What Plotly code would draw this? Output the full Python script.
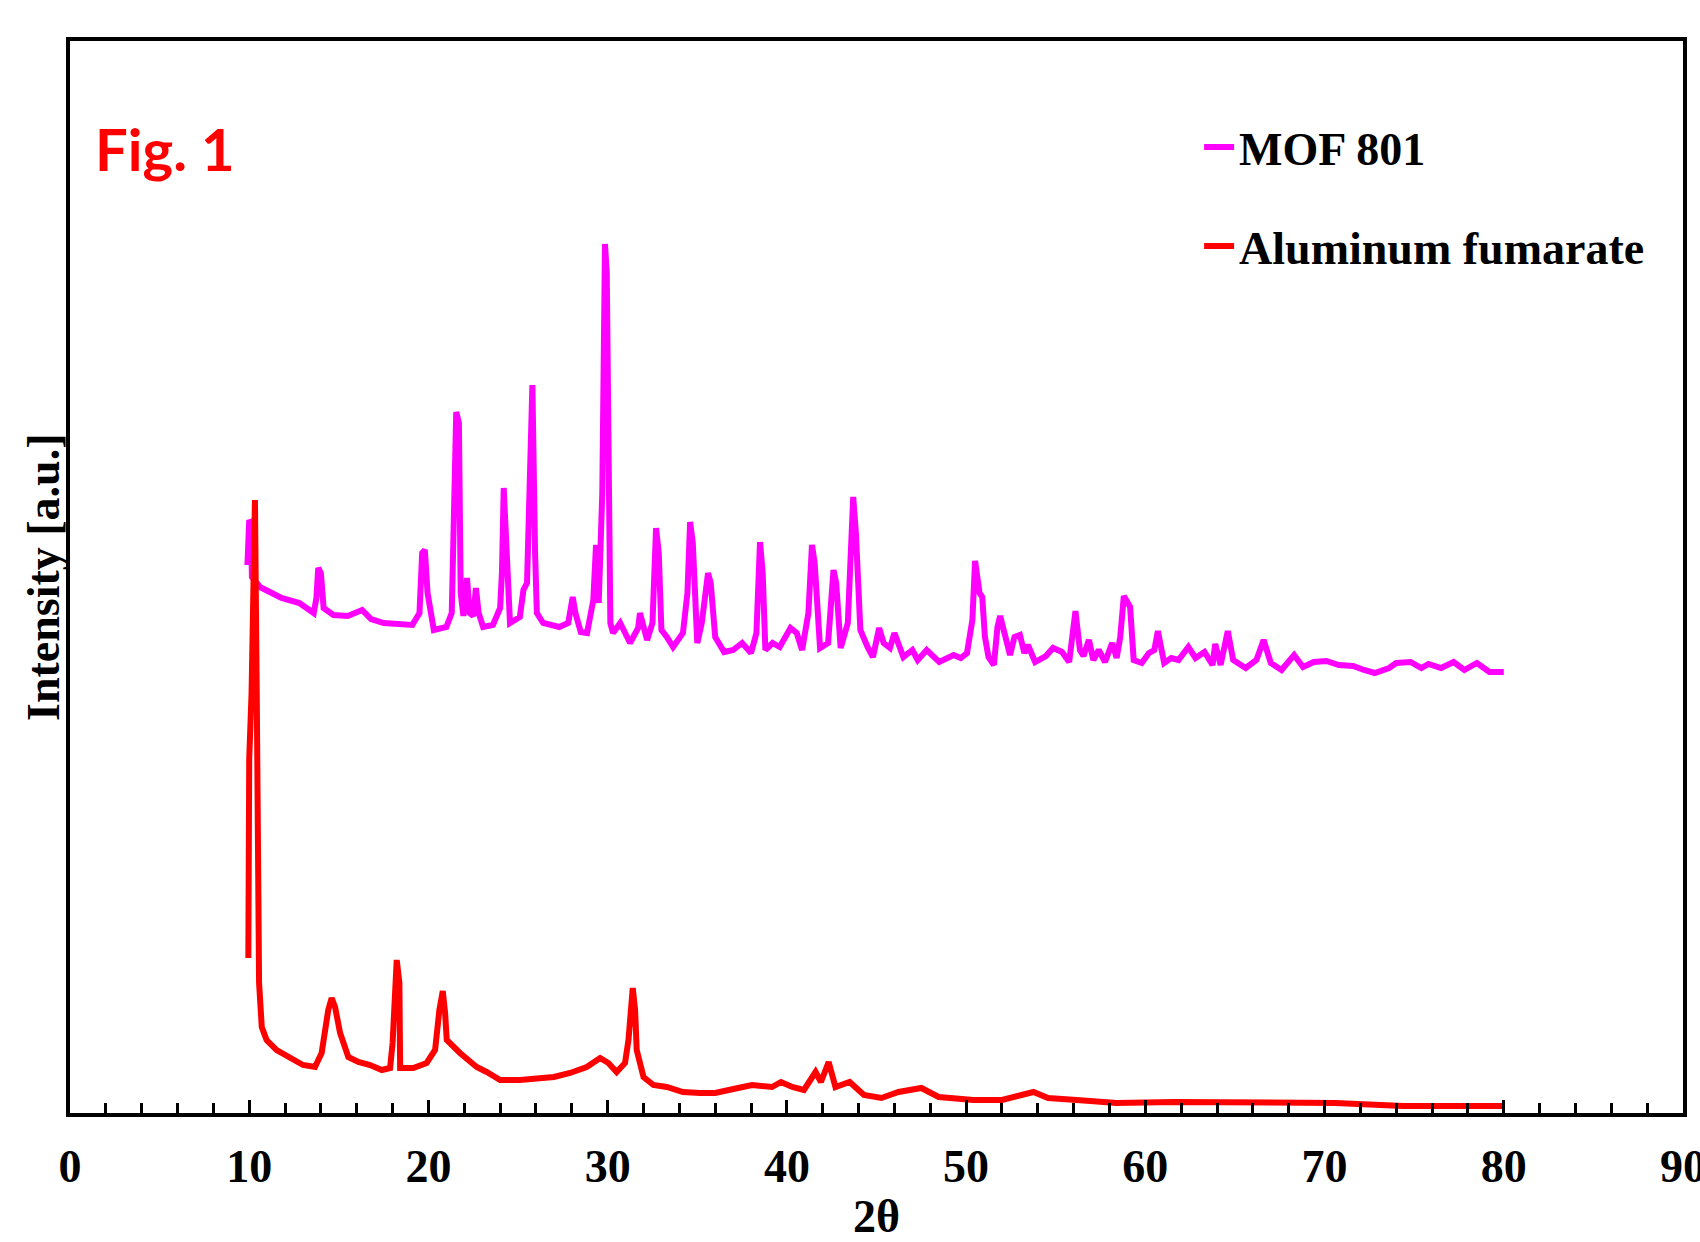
import plotly.graph_objects as go

# ---------------- data ----------------
mof_2theta = [
    9.9, 10.0, 10.1, 10.15, 10.6, 11.2, 11.8, 12.8, 13.6, 13.75,
    13.85, 14.0, 14.15, 14.7, 15.5, 16.3, 16.8, 17.5, 18.3, 19.1,
    19.5, 19.65, 19.8, 19.95, 20.3, 21.0, 21.3, 21.45, 21.55, 21.7,
    21.8, 21.95, 22.15, 22.3, 22.5, 22.65, 22.8, 23.05, 23.6, 24.0,
    24.1, 24.2, 24.35, 24.55, 25.1, 25.3, 25.5, 25.7, 25.8, 25.95,
    26.05, 26.4, 27.3, 27.8, 28.05, 28.2, 28.5, 28.85, 29.2, 29.35,
    29.5, 29.7, 29.85, 29.95, 30.05, 30.15, 30.3, 30.7, 31.25, 31.7,
    31.8, 32.0, 32.2, 32.5, 32.7, 32.85, 33.0, 33.3, 33.65, 34.2,
    34.45, 34.6, 34.75, 35.0, 35.25, 35.6, 35.75, 36.0, 36.5, 37.0,
    37.5, 38.0, 38.3, 38.5, 38.65, 38.8, 39.2, 39.6, 40.2, 40.55,
    40.85, 41.2, 41.4, 41.55, 41.85, 42.3, 42.6, 42.75, 43.0, 43.4,
    43.7, 43.85, 44.1, 44.5, 44.8, 45.15, 45.4, 45.75, 46.0, 46.5,
    47.0, 47.3, 47.8, 48.5, 49.3, 49.7, 50.05, 50.35, 50.5, 50.75,
    50.9, 51.05, 51.25, 51.55, 51.75, 51.9, 52.2, 52.45, 52.7, 53.0,
    53.25, 53.45, 53.85, 54.45, 54.85, 55.35, 55.75, 55.95, 56.1, 56.35,
    56.55, 56.85, 57.1, 57.4, 57.75, 58.15, 58.4, 58.6, 58.8, 59.15,
    59.35, 59.8, 60.2, 60.5, 60.7, 61.05, 61.45, 61.85, 62.4, 62.8,
    63.3, 63.75, 63.9, 64.2, 64.6, 64.9, 65.6, 66.2, 66.6, 67.0,
    67.6, 68.3, 68.8, 69.4, 70.1, 70.8, 71.6, 72.2, 72.8, 73.6,
    74.0, 74.8, 75.4, 75.8, 76.5, 77.2, 77.8, 78.5, 79.2, 80.0,
]
mof_intensity = [
    548, 593, 590, 536, 526, 520, 515, 510, 500, 515,
    545, 540, 505, 498, 497, 503, 494, 490, 489, 488,
    500, 560, 563, 520, 483, 486, 500, 640, 701, 690,
    520, 497, 535, 500, 497, 525, 500, 486, 488, 505,
    540, 625, 560, 490, 496, 523, 530, 690, 728, 560,
    500, 490, 486, 490, 516, 500, 481, 480, 513, 568,
    510, 620, 869, 840, 580, 490, 480, 490, 470, 485,
    500, 485, 473, 490, 585, 560, 483, 476, 466, 480,
    520, 591, 570, 470, 490, 540, 530, 476, 461, 463,
    470, 460, 480, 571, 540, 463, 470, 466, 485, 480,
    463, 500, 568, 550, 465, 470, 543, 530, 465, 490,
    616, 580, 483, 466, 456, 485, 470, 465, 480, 456,
    463, 453, 463, 451, 458, 455, 460, 493, 552, 520,
    516, 476, 456, 448, 486, 497, 473, 458, 476, 478,
    460, 468, 451, 457, 465, 461, 451, 483, 502, 463,
    457, 473, 453, 463, 451, 470, 455, 476, 517, 506,
    453, 450, 460, 463, 482, 450, 455, 453, 466, 455,
    461, 448, 469, 448, 482, 453, 445, 453, 473, 450,
    443, 458, 446, 451, 452, 448, 447, 443, 440, 445,
    450, 451, 445, 449, 445, 451, 443, 450, 441, 441,
]

alfum_2theta = [
    9.95, 10.0, 10.13, 10.32, 10.42, 10.47, 10.55, 10.7, 10.97, 11.53,
    12.28, 13.0, 13.67, 14.04, 14.41, 14.6, 14.79, 15.07, 15.53, 16.09,
    16.74, 17.4, 17.86, 18.0, 18.23, 18.38, 18.42, 19.15, 19.9, 20.37,
    20.61, 20.8, 20.93, 21.02, 21.76, 22.69, 23.25, 24.0, 25.1, 26.04,
    27.0, 27.9, 28.83, 29.58, 30.04, 30.5, 30.97, 31.16, 31.29, 31.4,
    31.53, 31.62, 32.0, 32.55, 33.3, 34.2, 35.16, 36.0, 37.27, 38.06,
    39.17, 39.67, 40.3, 40.95, 41.6, 41.9, 42.33, 42.71, 43.5, 44.3,
    45.27, 46.23, 47.5, 48.47, 50.4, 52.0, 53.76, 54.57, 56.17, 58.4,
    61.6, 65.8, 70.6, 74.4, 78.3, 80.0,
]
alfum_intensity = [
    155, 354, 420, 613, 420, 213, 130, 86, 73, 63,
    55, 48, 46, 60, 103, 115, 106, 80, 56, 51,
    48, 43, 45, 70, 153, 130, 45, 45, 50, 63,
    103, 122, 100, 73, 60, 46, 41, 33, 33, 35,
    36, 40, 46, 55, 50, 41, 50, 73, 113, 125,
    103, 63, 36, 28, 26, 21, 20, 20, 25, 28,
    26, 31, 26, 23, 41, 31, 51, 26, 31, 18,
    15, 21, 25, 16, 13, 13, 21, 15, 13, 10,
    11, 11, 10, 7, 6, 7,
]

series_names = ["MOF 801", "Aluminum fumarate"]
series_colors = ["#FF00FF", "#FF0000"]
x_tick_values = [0, 10, 20, 30, 40, 50, 60, 70, 80, 90]

if len(mof_2theta) != len(mof_intensity) or len(alfum_2theta) != len(alfum_intensity):
    raise ValueError("length mismatch %d %d %d %d" % (len(mof_2theta), len(mof_intensity),
                                                      len(alfum_2theta), len(alfum_intensity)))

SERIF = "Liberation Serif, Times New Roman, serif"

fig = go.Figure()
fig.add_trace(go.Scatter(x=mof_2theta, y=mof_intensity, mode="lines",
                         name=series_names[0], legendgroup="a",
                         line=dict(color=series_colors[0], width=6)))
fig.add_trace(go.Scatter(x=alfum_2theta, y=alfum_intensity, mode="lines",
                         name=series_names[1], legendgroup="b",
                         line=dict(color=series_colors[1], width=6)))

fig.update_layout(
    width=1700, height=1242,
    margin=dict(l=70, r=17, t=41, b=129),
    paper_bgcolor="white", plot_bgcolor="white",
    showlegend=True,
    legend=dict(x=0.700, y=0.935, xanchor="left", yanchor="top",
                font=dict(family=SERIF, size=46, color="black", weight="bold"),
                tracegroupgap=36, bgcolor="rgba(0,0,0,0)", itemwidth=30),
    xaxis=dict(range=[0, 90], tickvals=x_tick_values, ticktext=[str(v) for v in x_tick_values],
               ticks="inside", ticklen=13, tickwidth=3, tickcolor="black",
               minor=dict(dtick=2, ticks="inside", ticklen=10, tickwidth=3, tickcolor="black"),
               showline=True, linewidth=4, linecolor="black", mirror=True,
               showgrid=False, zeroline=False, automargin=False,
               tickfont=dict(family=SERIF, size=46, color="black", weight="bold"),
               ticklabelstandoff=10, ticklabeloverflow="allow"),
    yaxis=dict(range=[0, 1072], showticklabels=False, ticks="",
               showline=True, linewidth=4, linecolor="black", mirror=True,
               showgrid=False, zeroline=False, automargin=False),
    annotations=[
        dict(text="Fig. 1", xref="paper", yref="paper",
             x=(93 - 70) / 1613, y=1 - (148 - 41) / 1072,
             xanchor="left", yanchor="middle", showarrow=False,
             font=dict(family="Lato, Open Sans, sans-serif", size=58,
                       color="#FF0000", weight="bold")),
        dict(text="Intensity [a.u.]", xref="paper", yref="paper",
             x=(43 - 70) / 1613, y=1 - (577 - 41) / 1072,
             xanchor="center", yanchor="middle", textangle=-90, showarrow=False,
             font=dict(family=SERIF, size=46, color="black", weight="bold")),
        dict(text="2θ", xref="paper", yref="paper",
             x=0.5, y=1 - (1216 - 41) / 1072,
             xanchor="center", yanchor="middle", showarrow=False,
             font=dict(family=SERIF, size=46, color="black", weight="bold")),
    ],
)

fig.write_html("out.html")
